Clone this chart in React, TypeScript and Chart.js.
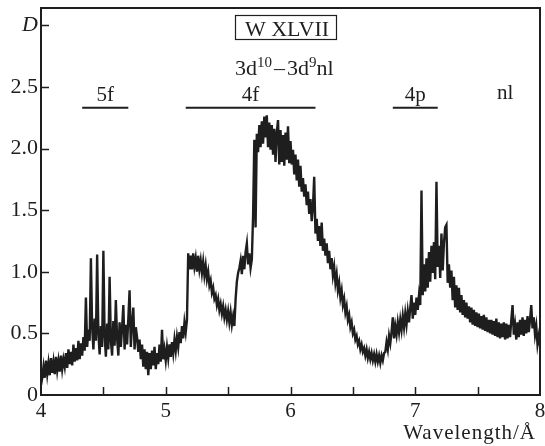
import { useEffect, useRef } from "react";
import { Chart, registerables } from "chart.js";

Chart.register(...registerables);

// Spectrum: absorbance D sampled every 0.01 Å from 4.00 Å to 8.00 Å
const WL_START = 4.0;
const WL_STEP = 0.01;
const D_VALUES: number[] = [
  // 4.00
  0.08, 0.14, 0.23, 0.14, 0.28, 0.17, 0.26, 0.16, 0.30, 0.18,
  // 4.10
  0.27, 0.17, 0.31, 0.20, 0.28, 0.19, 0.32, 0.21, 0.29, 0.23,
  // 4.20
  0.34, 0.22, 0.37, 0.25, 0.35, 0.24, 0.41, 0.27, 0.38, 0.28,
  // 4.30
  0.44, 0.29, 0.42, 0.32, 0.47, 0.36, 0.79, 0.39, 0.53, 0.44,
  // 4.40
  1.11, 0.55, 0.37, 0.62, 0.44, 1.14, 0.50, 0.33, 0.56, 0.39,
  // 4.50
  1.17, 0.48, 0.31, 0.58, 0.37, 0.96, 0.44, 0.32, 0.60, 0.40,
  // 4.60
  0.77, 0.46, 0.32, 0.59, 0.39, 0.55, 0.73, 0.37, 0.57, 0.41,
  // 4.70
  0.62, 0.85, 0.39, 0.58, 0.71, 0.37, 0.55, 0.47, 0.35, 0.45,
  // 4.80
  0.29, 0.41, 0.23, 0.37, 0.21, 0.35, 0.16, 0.34, 0.21, 0.36,
  // 4.90
  0.24, 0.39, 0.21, 0.34, 0.25, 0.41, 0.27, 0.53, 0.29, 0.37,
  // 5.00
  0.28, 0.39, 0.30, 0.41, 0.31, 0.43, 0.34, 0.45, 0.36, 0.47,
  // 5.10
  0.39, 0.51, 0.42, 0.56, 0.46, 0.59, 0.51, 0.61, 1.15, 1.02,
  // 5.20
  1.13, 1.02, 1.15, 1.04, 1.11, 1.00, 1.13, 1.02, 1.09, 0.99,
  // 5.30
  1.08, 0.97, 1.05, 0.94, 1.00, 0.89, 0.93, 0.83, 0.87, 0.78,
  // 5.40
  0.81, 0.73, 0.78, 0.69, 0.74, 0.66, 0.72, 0.63, 0.69, 0.61,
  // 5.50
  0.68, 0.59, 0.67, 0.57, 0.64, 0.56, 0.78, 0.92, 0.99, 1.03,
  // 5.60
  1.09, 0.98, 1.13, 1.02, 1.16, 1.23, 1.06, 1.15, 1.03, 1.10,
  // 5.70
  1.45, 2.07, 1.36, 2.12, 1.97, 2.19, 2.01, 2.22, 2.04, 2.26,
  // 5.80
  2.09, 2.27, 2.01, 2.21, 1.99, 2.19, 1.95, 2.16, 1.89, 2.13,
  // 5.90
  2.23, 1.87, 2.15, 1.89, 2.11, 1.86, 2.13, 1.91, 2.18, 1.88,
  // 6.00
  2.06, 1.87, 1.99, 1.79, 1.95, 1.74, 1.91, 1.69, 1.86, 1.65,
  // 6.10
  1.76, 1.61, 1.71, 1.54, 1.65, 1.47, 1.59, 1.41, 1.53, 1.77,
  // 6.20
  1.31, 1.43, 1.25, 1.37, 1.21, 1.40, 1.17, 1.27, 1.13, 1.23,
  // 6.30
  1.07, 1.17, 1.02, 1.11, 0.97, 1.04, 0.91, 0.98, 0.85, 0.91,
  // 6.40
  0.79, 0.85, 0.73, 0.78, 0.67, 0.72, 0.61, 0.65, 0.55, 0.59,
  // 6.50
  0.50, 0.53, 0.45, 0.48, 0.41, 0.44, 0.37, 0.41, 0.35, 0.38,
  // 6.60
  0.32, 0.37, 0.30, 0.35, 0.29, 0.34, 0.28, 0.33, 0.27, 0.33,
  // 6.70
  0.27, 0.32, 0.26, 0.32, 0.28, 0.34, 0.35, 0.43, 0.37, 0.48,
  // 6.80
  0.42, 0.51, 0.63, 0.46, 0.56, 0.49, 0.59, 0.51, 0.61, 0.53,
  // 6.90
  0.64, 0.55, 0.66, 0.57, 0.68, 0.59, 0.71, 0.81, 0.62, 0.75,
  // 7.00
  0.65, 0.79, 0.69, 0.81, 0.73, 1.66, 0.81, 1.06, 0.84, 1.11,
  // 7.10
  0.87, 1.16, 0.92, 1.21, 0.99, 1.24, 0.94, 1.73, 1.04, 1.21,
  // 7.20
  0.95, 1.31, 1.01, 1.23, 1.36, 1.38, 0.91, 1.06, 0.87, 1.01,
  // 7.30
  0.77, 0.96, 0.71, 0.89, 0.69, 0.87, 0.67, 0.81, 0.65, 0.77,
  // 7.40
  0.63, 0.75, 0.62, 0.72, 0.59, 0.71, 0.57, 0.69, 0.56, 0.67,
  // 7.50
  0.55, 0.66, 0.54, 0.64, 0.53, 0.65, 0.52, 0.63, 0.51, 0.61,
  // 7.60
  0.50, 0.61, 0.49, 0.60, 0.48, 0.62, 0.47, 0.59, 0.46, 0.58,
  // 7.70
  0.47, 0.59, 0.45, 0.58, 0.46, 0.57, 0.47, 0.61, 0.73, 0.49,
  // 7.80
  0.57, 0.45, 0.59, 0.47, 0.61, 0.49, 0.63, 0.48, 0.61, 0.50,
  // 7.90
  0.64, 0.51, 0.61, 0.73, 0.54, 0.63, 0.49, 0.56, 0.41, 0.48,
  // 8.00
  0.40,
];

// Axis settings
const X_MIN = 4;
const X_MAX = 8;
const Y_MIN = 0;
const Y_MAX = 3.14;
const TICK_STEP = 0.5;

// Transition-series brackets (wavelength ranges, Å)
const SERIES_NAMES = ["5f", "4f", "4p"];
const SERIES_FROM = [4.33, 5.16, 6.82];
const SERIES_TO = [4.7, 6.2, 7.18];

const TITLE_ION = "W XLVII";
const X_TITLE = "Wavelength/Å";
const Y_TITLE = "D";

const FONT = "'Liberation Serif', 'Times New Roman', serif";
const INK = "#1e1e1e";

const decorPlugin = {
  id: "decor",
  afterDraw(chart: any) {
    const { ctx, chartArea } = chart;
    const { left, right, top, bottom } = chartArea;
    const xs = chart.scales.x;
    const ys = chart.scales.y;
    ctx.save();
    // frame
    ctx.strokeStyle = INK;
    ctx.lineWidth = 2;
    ctx.strokeRect(left, top, right - left, bottom - top);
    // inward ticks
    ctx.lineWidth = 1.5;
    ctx.beginPath();
    xs.ticks.forEach((t: any) => {
      if (t.value <= X_MIN || t.value >= X_MAX) return;
      const px = Math.round(xs.getPixelForValue(t.value)) + 0.5;
      ctx.moveTo(px, bottom);
      ctx.lineTo(px, bottom - 8);
    });
    ys.ticks.forEach((t: any) => {
      if (t.value <= Y_MIN) return;
      const py = Math.round(ys.getPixelForValue(t.value)) + 0.5;
      ctx.moveTo(left, py);
      ctx.lineTo(left + 8, py);
    });
    ctx.stroke();

    ctx.fillStyle = INK;
    ctx.textBaseline = "alphabetic";

    // boxed ion name
    ctx.font = `22px ${FONT}`;
    ctx.textAlign = "center";
    ctx.fillText(TITLE_ION, 287, 36);
    ctx.lineWidth = 1.2;
    ctx.strokeRect(235.5, 15.5, 101, 24);

    // configuration label 3d10 – 3d9nl
    ctx.textAlign = "left";
    let cx = 235;
    const base = 75;
    const big = `22px ${FONT}`;
    const small = `15px ${FONT}`;
    const parts: [string, boolean][] = [
      ["3d", false],
      ["10", true],
      ["\u2013", false],
      ["3d", false],
      ["9", true],
      ["nl", false],
    ];
    parts.forEach(([s, sup]) => {
      ctx.font = sup ? small : big;
      const gap = s === "\u2013" ? 2 : 0;
      ctx.fillText(s, cx + gap, sup ? base - 8 : base);
      cx += ctx.measureText(s).width + gap * 2;
    });

    // series brackets
    const lineY = ys.getPixelForValue(2.33);
    ctx.lineWidth = 2;
    ctx.font = `21px ${FONT}`;
    ctx.textAlign = "center";
    SERIES_NAMES.forEach((name, i) => {
      const x0 = xs.getPixelForValue(SERIES_FROM[i]);
      const x1 = xs.getPixelForValue(SERIES_TO[i]);
      ctx.beginPath();
      ctx.moveTo(x0, lineY);
      ctx.lineTo(x1, lineY);
      ctx.stroke();
      let tx = (x0 + x1) / 2;
      if (name === "4f") tx = xs.getPixelForValue(5.68);
      ctx.fillText(name, tx, lineY - 7);
    });
    ctx.fillText("nl", xs.getPixelForValue(7.72), lineY - 9);

    // x axis title
    ctx.textAlign = "right";
    ctx.font = `21px ${FONT}`;
    try {
      (ctx as any).letterSpacing = "1px";
    } catch (e) {}
    ctx.fillText(X_TITLE, right - 4, 439);
    try {
      (ctx as any).letterSpacing = "0px";
    } catch (e) {}
    ctx.restore();
  },
};

export default function App() {
  const ref = useRef<HTMLCanvasElement | null>(null);

  useEffect(() => {
    const prevMargin = document.body.style.margin;
    document.body.style.margin = "0";
    const canvas = ref.current;
    if (!canvas) return;
    const points = D_VALUES.map((d, i) => ({
      x: WL_START + i * WL_STEP,
      y: d,
    }));
    const chart = new Chart(canvas, {
      type: "line",
      data: {
        datasets: [
          {
            data: points,
            borderColor: INK,
            borderWidth: 2.4,
            pointRadius: 0,
            tension: 0,
            fill: false,
          },
        ],
      },
      options: {
        animation: false,
        responsive: false,
        maintainAspectRatio: false,
        layout: { padding: { top: 8, right: 5, left: 0, bottom: 0 } },
        plugins: {
          legend: { display: false },
          tooltip: { enabled: false },
          title: { display: false },
        },
        scales: {
          x: {
            type: "linear",
            min: X_MIN,
            max: X_MAX,
            grid: { display: false, drawTicks: false },
            border: { display: false },
            afterFit: (s: any) => {
              s.height = 51;
              s.paddingLeft = 0;
              s.paddingRight = 0;
            },
            ticks: {
              stepSize: TICK_STEP,
              autoSkip: false,
              maxRotation: 0,
              includeBounds: false,
              padding: 4,
              color: INK,
              font: { family: FONT, size: 21 },
              callback: (v: any) =>
                Number.isInteger(Number(v)) ? String(v) : "",
            },
          },
          y: {
            type: "linear",
            min: Y_MIN,
            max: Y_MAX,
            grid: { display: false, drawTicks: false },
            border: { display: false },
            afterFit: (s: any) => {
              s.width = 41;
              s.paddingTop = 0;
              s.paddingBottom = 0;
            },
            ticks: {
              stepSize: TICK_STEP,
              autoSkip: false,
              includeBounds: false,
              padding: 3,
              color: INK,
              font: (c: any) =>
                c.tick && Math.abs(c.tick.value - 3) < 1e-6
                  ? { family: FONT, size: 22, style: "italic" }
                  : { family: FONT, size: 22 },
              callback: (v: any) => {
                const n = Number(v);
                if (Math.abs(n - 3) < 1e-6) return Y_TITLE;
                if (n === 0) return "0";
                return n.toFixed(1);
              },
            },
          },
        },
      },
      plugins: [decorPlugin],
    });
    return () => {
      chart.destroy();
      document.body.style.margin = prevMargin;
    };
  }, []);

  return (
    <div style={{ width: 545, height: 446, background: "#fff" }}>
      <canvas ref={ref} width={545} height={446} />
    </div>
  );
}
